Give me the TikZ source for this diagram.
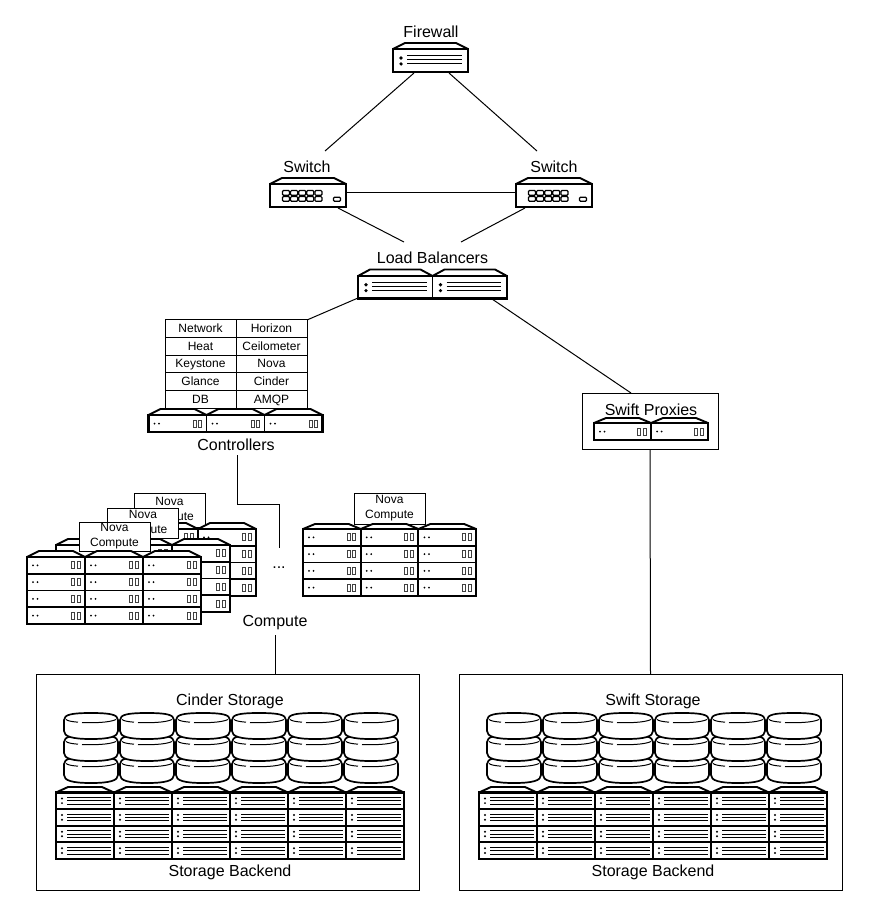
\documentclass[tikz,border=0pt]{standalone}
\usepackage{fontspec}
\setmainfont{Liberation Sans}
\usetikzlibrary{calc}
\tikzset{
  link/.style={line width=1pt,draw=black},
  spot/.style={inner sep=0pt,outer sep=0pt,draw=none,fill=none},
  lbl/.style={inner sep=0pt,outer sep=0pt,font=\fontsize{16}{18}\selectfont,text=black},
  cell/.style={draw=black,line width=1pt,fill=white,inner sep=0pt,outer sep=0pt,minimum width=71pt,minimum height=17.7pt,text height=10pt,text depth=2pt,font=\fontsize{12}{14}\selectfont},
  novabox/.style={draw=black,line width=1pt,fill=white,inner sep=0pt,outer sep=0pt,minimum width=71pt,align=center,font=\fontsize{12}{15}\selectfont},
  panel/.style={draw=black,line width=1pt,fill=none,inner sep=0pt,outer sep=0pt},
  body/.style={draw=black,line width=\rackline,fill=white,line join=miter},
  fine/.style={draw=black,line width=1pt},
  finegray/.style={draw=black!75,line width=.9pt},
}
\newcommand\rackline{1.9pt}
\newcommand\frontA[2]{%
  \fill (8,{#2*.39}) circle (1.8);\fill (8,{#2*.65}) circle (1.8);
  \foreach \v in {.3,.47,.65}{\draw[fine] (14,{#2*\v}) -- ({#1-6},{#2*\v});}}
\newcommand\frontS[2]{%
  \fill (6,{#2*.36}) circle (1.1);\fill (6,{#2*.64}) circle (1.1);
  \foreach \v in {.3,.5,.7}{\draw[fine,line width=.8pt] (11,{#2*\v}) -- ({#1-3},{#2*\v});}}
\newcommand\frontC[2]{%
  \fill (6,{#2*.5}) circle (1);\fill (10.5,{#2*.5}) circle (1);
  \draw[finegray] ({#1-13.5},{#2*.5-3.5}) rectangle ++(3,7);
  \draw[finegray] ({#1-8},{#2*.5-3.5}) rectangle ++(3,7);}
\newcommand\frontW[2]{%
  \foreach \i in {0,...,4}{\foreach \j in {0,1}{
    \draw[fine,line width=1.2pt,rounded corners=1pt] ({12.5+\i*8.1},{6.5+\j*6}) rectangle ++(7,4.8);}}
  \draw[fine,line width=1.2pt,rounded corners=1pt] (63.5,13.2) rectangle ++(7,4);}
% #1 x, #2 body top, #3 cols, #4 rows, #5 col width, #6 row height, #7 front, #8 roof height
\newcommand\rack[8]{%
  \begin{scope}[shift={(#1,#2)}]
    \foreach \c in {1,...,#3}{
      \pgfmathsetmacro\cx{(\c-1)*#5}
      \begin{scope}[shift={(\cx,0)}]
        \filldraw[body,line join=round] (0,0) -- (12,-#8) -- ({#5-12},-#8) -- (#5,0) -- cycle;
        \foreach \r in {1,...,#4}{
          \pgfmathsetmacro\ry{(\r-1)*#6}
          \begin{scope}[shift={(0,\ry)}]
            \filldraw[body] (0,0) rectangle (#5,#6);
            #7{#5}{#6}
          \end{scope}}
      \end{scope}}
    \pgfmathsetmacro\tw{#3*#5}\pgfmathsetmacro\th{#4*#6}
    \draw[body,fill=none,line width=2.3pt] (0,0) rectangle (\tw,\th);
  \end{scope}}
\newcommand\disk[2]{%
  \begin{scope}[shift={(#1,#2)}]
    \filldraw[body,line width=1.7pt] (0,7) .. controls (0,1.5) and (8,0) .. (27,0) .. controls (46,0) and (54,1.5) .. (54,7)
      -- (54,18) .. controls (54,23.5) and (46,26) .. (27,26) .. controls (8,26) and (0,23.5) .. (0,18) -- cycle;
    \draw[fine] (2,6.5) .. controls (4,8) and (7,8.5) .. (14,9.2);
    \draw[fine] (18,9.5) .. controls (30,10.1) and (46,9.5) .. (52,6.5);
  \end{scope}}
\newcommand\storage[1]{%
  \begin{scope}[shift={(#1,0)}]
    \foreach \c in {0,...,5}{
      \pgfmathsetmacro\dx{64+\c*56}
      \disk{\dx}{757}\disk{\dx}{735}\disk{\dx}{713}}
    \rack{56}{792.5}{6}{4}{58}{16.6}{\frontS}{5.5}
  \end{scope}}
\begin{document}
\begin{tikzpicture}[x=1pt,y=-1pt]
\useasboundingbox[fill=white] (0,0) rectangle (868,908);

% firewall, switches, balancers
\rack{393}{49}{1}{1}{75}{23}{\frontA}{6}
\node[spot,minimum width=75pt,minimum height=23pt] (fw) at (430.5,60.5) {};
\node[lbl] (fwlabel) at (431,32) {Firewall};
\rack{270}{184}{1}{1}{76}{23}{\frontW}{6}
\node[spot,minimum width=76pt,minimum height=23pt] (swa) at (308,195.5) {};
\node[lbl] (swalabel) at (307,167) {Switch};
\rack{516}{184}{1}{1}{76}{23}{\frontW}{6}
\node[spot,minimum width=76pt,minimum height=23pt] (swb) at (554,195.5) {};
\node[lbl] (swblabel) at (554,167) {Switch};
\node[lbl] (lblabel) at (432.5,258) {Load Balancers};
\rack{358}{276}{2}{1}{74.5}{22.5}{\frontA}{6.5}
\node[spot,minimum width=149pt,minimum height=22.5pt] (lb) at (432.5,287.25) {};

\coordinate (fwl) at (414,73);
\coordinate (fwr) at (449,73);
\coordinate (swatop) at (325,151);
\coordinate (swbtop) at (537,151);
\coordinate (swalow) at (338,208);
\coordinate (swblow) at (525,208);
\coordinate (lbla) at (404,242);
\coordinate (lblb) at (461,242);
\coordinate (swaright) at (346,192);
\coordinate (swbleft) at (516,192);
\coordinate (lbleft) at (358,298);
\coordinate (lbright) at (492,299);
\coordinate (ctltop) at (307,320);
\coordinate (proxtop) at (631,393);
\draw[link] (fwl) -- (swatop);
\draw[link] (fwr) -- (swbtop);
\draw[link] (swaright) -- (swbleft);
\draw[link] (swalow) -- (lbla);
\draw[link] (swblow) -- (lblb);
\draw[link] (lbleft) -- (ctltop);
\draw[link] (lbright) -- (proxtop);

% controllers table
\node[cell] (c11) at (200.5,328.5) {Network};
\node[cell] (c12) at (271.5,328.5) {Horizon};
\node[cell] (c21) at (200.5,346.2) {Heat};
\node[cell] (c22) at (271.5,346.2) {Ceilometer};
\node[cell] (c31) at (200.5,363.9) {Keystone};
\node[cell] (c32) at (271.5,363.9) {Nova};
\node[cell] (c41) at (200.5,381.6) {Glance};
\node[cell] (c42) at (271.5,381.6) {Cinder};
\node[cell] (c51) at (200.5,399.3) {DB};
\node[cell] (c52) at (271.5,399.3) {AMQP};
\rack{148.5}{415}{3}{1}{58}{17}{\frontC}{6}
\node[lbl] (ctllabel) at (236,445) {Controllers};

% compute stacks
\node[novabox,minimum height=34pt] (nb1) at (169.5,510) {Nova\\Compute};
\rack{82}{529}{3}{4}{58}{16.75}{\frontC}{6}
\node[novabox,minimum height=30pt] (nb2) at (143,523) {Nova\\Compute};
\rack{56}{545}{3}{4}{58}{16.75}{\frontC}{6}
\node[novabox,minimum height=29pt] (nb3) at (114.5,536.5) {Nova\\Compute};
\rack{27}{557}{3}{4}{58}{16.75}{\frontC}{6}

\node[novabox,minimum height=31pt] (nb4) at (389.5,508.5) {Nova\\Compute};
\rack{303}{529}{3}{4}{57.7}{16.75}{\frontC}{5}

\node[lbl] (dots) at (279,568) {...};
\coordinate (ctllow) at (237,455);
\coordinate (elbowa) at (237,504);
\coordinate (elbowb) at (279,504);
\coordinate (dotstop) at (279,548);
\draw[link] (ctllow) -- (elbowa) -- (elbowb) -- (dotstop);
\node[lbl] (complabel) at (275,623) {Compute};
\coordinate (compfoot) at (275,635);

% swift proxies
\node[panel,minimum width=136pt,minimum height=56pt] (prox) at (650,421) {};
\node[lbl] (proxlabel) at (651,410) {Swift Proxies};
\rack{594}{423}{2}{1}{57}{17}{\frontC}{5}

% storage
\node[panel,minimum width=383pt,minimum height=216pt] (cinder) at (227.5,782) {};
\node[panel,minimum width=383pt,minimum height=216pt] (swift) at (650.5,782) {};
\storage{0}
\storage{423}
\node[lbl] (cinderlabel) at (230,701) {Cinder Storage};
\node[lbl] (backa) at (230,872) {Storage Backend};
\node[lbl] (swiftlabel) at (653,701) {Swift Storage};
\node[lbl] (backb) at (653,872) {Storage Backend};

\draw[link] (compfoot) -- (compfoot |- cinder.north);
\draw[link] (prox.south) -- (swift.north);
\end{tikzpicture}
\end{document}
